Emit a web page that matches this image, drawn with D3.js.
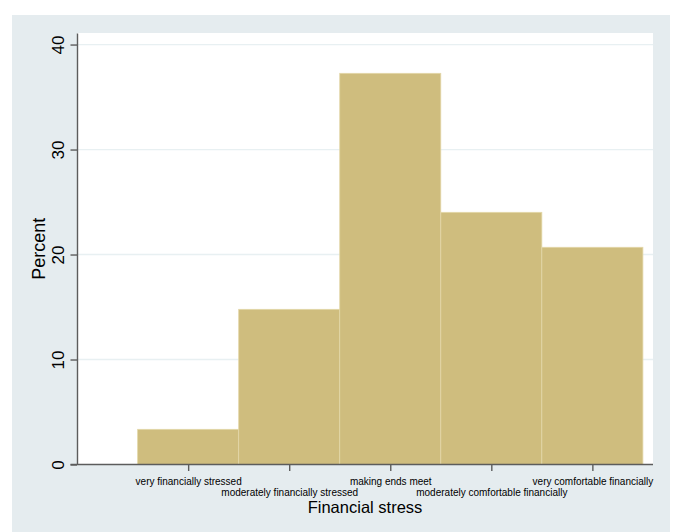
<!DOCTYPE html>
<html>
<head>
<meta charset="utf-8">
<script src="https://cdn.jsdelivr.net/npm/d3@7"></script>
<style>
  body { margin: 0; background: #fff; }
  text { font-family: "Liberation Sans", Arial, Helvetica, sans-serif; fill: #000; }
</style>
</head>
<body>
<div id="chart-area"></div>
<script>
// Data
var categories = ["very financially stressed", "moderately financially stressed",
    "making ends meet", "moderately comfortable financially", "very comfortable financially"];
var categoryCodes = [1, 2, 3, 4, 5];
var percents = [3.35, 14.78, 37.26, 24.02, 20.69];
var yTicks = [0, 10, 20, 30, 40];

var W = 675, H = 532;
var margin = { left: 77, right: 22, top: 33, bottom: 67.5 };
var width = W - margin.left - margin.right,
    height = H - margin.top - margin.bottom;

var svg = d3.select("#chart-area")
    .append("svg")
        .attr("width", W)
        .attr("height", H);

// outer graph region
svg.append("rect")
    .attr("x", 12).attr("y", 15)
    .attr("width", 658).attr("height", H - 15)
    .attr("fill", "#e5ecef");

var g = svg.append("g")
    .attr("transform", "translate(" + margin.left + ", " + margin.top + ")");

// plot region
g.append("rect")
    .attr("width", width)
    .attr("height", height)
    .attr("fill", "#fff");

// Scales
var x = d3.scaleLinear()
    .domain([-0.1, 5.6])
    .range([0, width]);

var y = d3.scaleLinear()
    .domain([0, 41.1])
    .range([height, 0]);

// Grid lines
g.selectAll(".grid")
    .data(yTicks.filter(function(d){ return d > 0; }))
    .enter().append("line")
        .attr("class", "grid")
        .attr("x1", 0).attr("x2", width)
        .attr("y1", function(d){ return y(d); })
        .attr("y2", function(d){ return y(d); })
        .attr("stroke", "#e8f0f2")
        .attr("stroke-width", 1.3);

// Bars
g.selectAll(".bar")
    .data(percents)
    .enter().append("rect")
        .attr("class", "bar")
        .attr("x", function(d, i){ return x(categoryCodes[i] - 0.5); })
        .attr("y", function(d){ return y(d); })
        .attr("width", function(d, i){ return x(categoryCodes[i] + 0.5) - x(categoryCodes[i] - 0.5); })
        .attr("height", function(d){ return height - y(d); })
        .attr("fill", "#cfbd7e")
        .attr("stroke", "#e3d7a8")
        .attr("stroke-width", 0.8);

// Y axis
var yAxisGroup = g.append("g")
    .attr("class", "y axis")
    .call(d3.axisLeft(y).tickValues(yTicks).tickSize(6.5).tickSizeOuter(0));

yAxisGroup.selectAll("text")
    .attr("x", 0).attr("y", 0).attr("dy", 0)
    .attr("transform", "translate(-13.5,0) rotate(-90)")
    .attr("text-anchor", "middle")
    .attr("font-size", "17px");

// X axis
var xAxisGroup = g.append("g")
    .attr("class", "x axis")
    .attr("transform", "translate(0," + height + ")")
    .call(d3.axisBottom(x).tickValues(categoryCodes).tickSize(6.5).tickSizeOuter(0)
        .tickFormat(function(d, i){ return categories[i]; }));

xAxisGroup.selectAll("text")
    .attr("dy", 0)
    .attr("y", function(d, i){ return i % 2 === 0 ? 20 : 31; })
    .attr("font-size", "10px");

svg.selectAll(".axis path, .axis line")
    .attr("stroke", "#5c5c5c")
    .attr("stroke-width", 1.4);
svg.selectAll(".axis text").attr("fill", "#000");
xAxisGroup.select(".domain").attr("d", "M-6.5,0H" + width);

// X Label
g.append("text")
    .attr("x", width / 2)
    .attr("y", height + 48.5)
    .attr("font-size", "16.5px")
    .attr("text-anchor", "middle")
    .text("Financial stress");

// Y Label
g.append("text")
    .attr("x", -(height / 2))
    .attr("y", -32)
    .attr("font-size", "18px")
    .attr("text-anchor", "middle")
    .attr("transform", "rotate(-90)")
    .text("Percent");
</script>
</body>
</html>
